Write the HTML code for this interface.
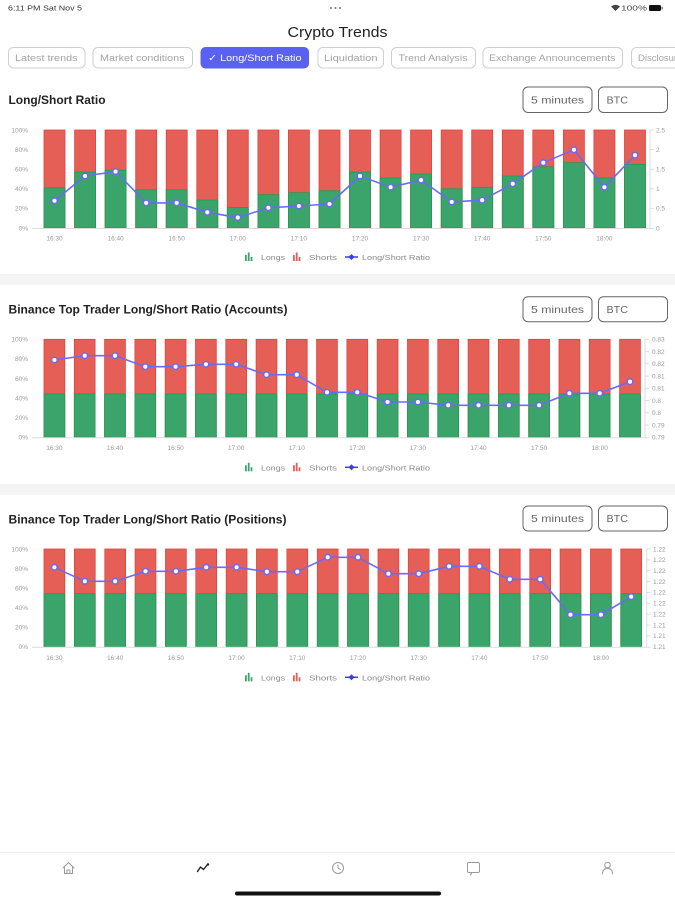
<!DOCTYPE html>
<html><head><meta charset="utf-8"><style>
html,body{margin:0;padding:0;background:#fff;}
body{width:675px;height:900px;overflow:hidden;}
svg{display:block;font-family:"Liberation Sans",sans-serif;}
</style></head><body>
<svg width="675" height="900" viewBox="0 0 675 900" xmlns="http://www.w3.org/2000/svg">
<rect width="675" height="900" fill="#fff"/>
<!-- status bar -->
<text x="8" y="10.5" font-size="7" fill="#333" textLength="74" lengthAdjust="spacingAndGlyphs">6:11 PM  Sat Nov 5</text>
<g fill="#777"><circle cx="331" cy="8" r="1"/><circle cx="335.5" cy="8" r="1"/><circle cx="340" cy="8" r="1"/></g>
<path d="M611,6.5 Q615.5,3 620,6.5 L615.5,11 Z" fill="#444"/>
<text x="621" y="10.5" font-size="7" fill="#444" textLength="26" lengthAdjust="spacingAndGlyphs">100%</text>
<rect x="649" y="5" width="12" height="6" rx="1.5" fill="#111"/>
<rect x="661.5" y="6.8" width="1.2" height="2.5" fill="#555"/>
<!-- title -->
<text x="337.5" y="37" font-size="14.5" fill="#222" text-anchor="middle" textLength="100" lengthAdjust="spacingAndGlyphs">Crypto Trends</text>
<!-- tabs -->
<g fill="#fff" stroke="#cfcfcf" stroke-width="1">
<rect x="8.5" y="47.5" width="76.5" height="20.5" rx="5"/>
<rect x="93" y="47.5" width="99.5" height="20.5" rx="5"/>
<rect x="318" y="47.5" width="65.5" height="20.5" rx="5"/>
<rect x="391.5" y="47.5" width="84" height="20.5" rx="5"/>
<rect x="483" y="47.5" width="139.5" height="20.5" rx="5"/>
<rect x="631.5" y="47.5" width="60" height="20.5" rx="5"/>
</g>
<rect x="200.5" y="47" width="108.5" height="21.5" rx="5" fill="#5a60f0"/>
<g font-size="9.5" fill="#a3a3a3">
<text x="15" y="61" textLength="62.5" lengthAdjust="spacingAndGlyphs">Latest trends</text>
<text x="100" y="61" textLength="84.5" lengthAdjust="spacingAndGlyphs">Market conditions</text>
<text x="324" y="61" textLength="53.5" lengthAdjust="spacingAndGlyphs">Liquidation</text>
<text x="398.5" y="61" textLength="69" lengthAdjust="spacingAndGlyphs">Trend Analysis</text>
<text x="489" y="61" textLength="126.5" lengthAdjust="spacingAndGlyphs">Exchange Announcements</text>
<text x="638" y="61">Disclosure</text>
</g>
<text x="208" y="61" font-size="9.5" fill="#fff" textLength="93.5" lengthAdjust="spacingAndGlyphs">✓ Long/Short Ratio</text>

<!-- grey separators -->
<rect x="0" y="274" width="675" height="11" fill="#f4f4f4"/>
<rect x="0" y="484" width="675" height="11" fill="#f4f4f4"/>

<!-- section titles & selectors -->
<g font-size="11.5" font-weight="bold" fill="#222">
<text x="8.5" y="104" textLength="97" lengthAdjust="spacingAndGlyphs">Long/Short Ratio</text>
<text x="8.5" y="313.5" textLength="279" lengthAdjust="spacingAndGlyphs">Binance Top Trader Long/Short Ratio (Accounts)</text>
<text x="8.5" y="523.5" textLength="278" lengthAdjust="spacingAndGlyphs">Binance Top Trader Long/Short Ratio (Positions)</text>
</g>
<g fill="#fff" stroke="#666" stroke-width="1">
<rect x="523" y="87" width="69" height="25.5" rx="5"/>
<rect x="598.5" y="87" width="69" height="25.5" rx="5"/>
<rect x="523" y="296.7" width="69" height="25" rx="5"/>
<rect x="598.5" y="296.7" width="69" height="25" rx="5"/>
<rect x="523" y="506" width="69" height="25" rx="5"/>
<rect x="598.5" y="506" width="69" height="25" rx="5"/>
</g>
<g font-size="10" fill="#666">
<text x="531" y="103.5" textLength="53" lengthAdjust="spacingAndGlyphs">5 minutes</text>
<text x="606.5" y="103.5" textLength="21.5" lengthAdjust="spacingAndGlyphs">BTC</text>
<text x="531" y="312.8" textLength="53" lengthAdjust="spacingAndGlyphs">5 minutes</text>
<text x="606.5" y="312.8" textLength="21.5" lengthAdjust="spacingAndGlyphs">BTC</text>
<text x="531" y="522" textLength="53" lengthAdjust="spacingAndGlyphs">5 minutes</text>
<text x="606.5" y="522" textLength="21.5" lengthAdjust="spacingAndGlyphs">BTC</text>
</g>

<!-- ============ CHART 1 ============ -->
<g fill="#e65f57" stroke="#e2413c" stroke-width="0.8">
<rect x="44" y="130" width="21" height="98"/><rect x="74.6" y="130" width="21" height="98"/><rect x="105.1" y="130" width="21" height="98"/><rect x="135.7" y="130" width="21" height="98"/><rect x="166.2" y="130" width="21" height="98"/><rect x="196.8" y="130" width="21" height="98"/><rect x="227.3" y="130" width="21" height="98"/><rect x="257.9" y="130" width="21" height="98"/><rect x="288.4" y="130" width="21" height="98"/><rect x="319" y="130" width="21" height="98"/><rect x="349.5" y="130" width="21" height="98"/><rect x="380.1" y="130" width="21" height="98"/><rect x="410.6" y="130" width="21" height="98"/><rect x="441.2" y="130" width="21" height="98"/><rect x="471.7" y="130" width="21" height="98"/><rect x="502.3" y="130" width="21" height="98"/><rect x="532.8" y="130" width="21" height="98"/><rect x="563.4" y="130" width="21" height="98"/><rect x="593.9" y="130" width="21" height="98"/><rect x="624.5" y="130" width="21" height="98"/>
</g>
<g fill="#3aa46a" stroke="#1f9b52" stroke-width="0.8">
<rect x="44" y="187.8" width="21" height="40.2"/><rect x="74.6" y="172.1" width="21" height="55.9"/><rect x="105.1" y="170.2" width="21" height="57.8"/><rect x="135.7" y="189.8" width="21" height="38.2"/><rect x="166.2" y="189.8" width="21" height="38.2"/><rect x="196.8" y="200" width="21" height="28"/><rect x="227.3" y="207.4" width="21" height="20.6"/><rect x="257.9" y="194.7" width="21" height="33.3"/><rect x="288.4" y="192.7" width="21" height="35.3"/><rect x="319" y="190.8" width="21" height="37.2"/><rect x="349.5" y="172.1" width="21" height="55.9"/><rect x="380.1" y="178" width="21" height="50"/><rect x="410.6" y="174.1" width="21" height="53.9"/><rect x="441.2" y="188.8" width="21" height="39.2"/><rect x="471.7" y="187.3" width="21" height="40.7"/><rect x="502.3" y="176.1" width="21" height="51.9"/><rect x="532.8" y="166.8" width="21" height="61.2"/><rect x="563.4" y="162.7" width="21" height="65.3"/><rect x="593.9" y="178" width="21" height="50"/><rect x="624.5" y="164.3" width="21" height="63.7"/>
</g>
<g stroke="#dcdcdc" stroke-width="1">
<line x1="32" y1="228.5" x2="650" y2="228.5"/>
<line x1="650" y1="130" x2="650" y2="228.5"/>
<line x1="650" y1="130" x2="654" y2="130"/><line x1="650" y1="149.6" x2="654" y2="149.6"/><line x1="650" y1="169.2" x2="654" y2="169.2"/><line x1="650" y1="188.8" x2="654" y2="188.8"/><line x1="650" y1="208.4" x2="654" y2="208.4"/><line x1="650" y1="228.5" x2="654" y2="228.5"/>
</g>
<g font-size="6.5" fill="#9a9a9a" text-anchor="end">
<text x="28" y="132.3">100%</text><text x="28" y="151.9">80%</text><text x="28" y="171.5">60%</text><text x="28" y="191.1">40%</text><text x="28" y="210.7">20%</text><text x="28" y="230.3">0%</text>
</g>
<g font-size="6.5" fill="#9a9a9a">
<text x="656" y="132.3">2.5</text><text x="656" y="151.9">2</text><text x="656" y="171.5">1.5</text><text x="656" y="191.1">1</text><text x="656" y="210.7">0.5</text><text x="656" y="230.3">0</text>
</g>
<g font-size="6.5" fill="#9a9a9a" text-anchor="middle">
<text x="54.5" y="240.5">16:30</text><text x="115.6" y="240.5">16:40</text><text x="176.7" y="240.5">16:50</text><text x="237.8" y="240.5">17:00</text><text x="298.9" y="240.5">17:10</text><text x="360" y="240.5">17:20</text><text x="421.1" y="240.5">17:30</text><text x="482.2" y="240.5">17:40</text><text x="543.3" y="240.5">17:50</text><text x="604.4" y="240.5">18:00</text>
</g>
<polyline fill="none" stroke="#6b6af2" stroke-width="1.6" stroke-linejoin="round" points="54.5,200.8 85.1,176 115.6,171.6 146.2,202.9 176.7,202.9 207.3,212.3 237.8,217.6 268.4,207.8 298.9,206 329.5,204 360,176 390.6,187.2 421.1,180.1 451.7,201.9 482.2,200.2 512.8,183.8 543.3,162.7 573.9,149.8 604.4,187.2 635,155.2"/>
<g fill="#fff" stroke="#6b6af2" stroke-width="1.5">
<circle cx="54.5" cy="200.8" r="2.8"/><circle cx="85.1" cy="176" r="2.8"/><circle cx="115.6" cy="171.6" r="2.8"/><circle cx="146.2" cy="202.9" r="2.8"/><circle cx="176.7" cy="202.9" r="2.8"/><circle cx="207.3" cy="212.3" r="2.8"/><circle cx="237.8" cy="217.6" r="2.8"/><circle cx="268.4" cy="207.8" r="2.8"/><circle cx="298.9" cy="206" r="2.8"/><circle cx="329.5" cy="204" r="2.8"/><circle cx="360" cy="176" r="2.8"/><circle cx="390.6" cy="187.2" r="2.8"/><circle cx="421.1" cy="180.1" r="2.8"/><circle cx="451.7" cy="201.9" r="2.8"/><circle cx="482.2" cy="200.2" r="2.8"/><circle cx="512.8" cy="183.8" r="2.8"/><circle cx="543.3" cy="162.7" r="2.8"/><circle cx="573.9" cy="149.8" r="2.8"/><circle cx="604.4" cy="187.2" r="2.8"/><circle cx="635" cy="155.2" r="2.8"/>
</g>
<!-- legend 1 -->
<g transform="translate(0,0)">
<g fill="#3aa46a"><rect x="245" y="255" width="1.8" height="6"/><rect x="247.8" y="252.5" width="1.8" height="8.5"/><rect x="250.6" y="257" width="1.8" height="4"/></g>
<text x="261" y="260" font-size="7.5" fill="#888" textLength="24" lengthAdjust="spacingAndGlyphs">Longs</text>
<g fill="#e65f57"><rect x="293" y="255" width="1.8" height="6"/><rect x="295.8" y="252.5" width="1.8" height="8.5"/><rect x="298.6" y="257" width="1.8" height="4"/></g>
<text x="309" y="260" font-size="7.5" fill="#888" textLength="28" lengthAdjust="spacingAndGlyphs">Shorts</text>
<line x1="345" y1="257" x2="358" y2="257" stroke="#3b3bef" stroke-width="1.5"/><path d="M351.5,254 L354.5,257 L351.5,260 L348.5,257 Z" fill="#3b3bef"/>
<text x="362" y="260" font-size="7.5" fill="#888" textLength="68" lengthAdjust="spacingAndGlyphs">Long/Short Ratio</text>
</g>

<!-- ============ CHART 2 ============ -->
<g fill="#e65f57" stroke="#e2413c" stroke-width="0.8">
<rect x="44" y="339.3" width="20.8" height="98"/><rect x="74.3" y="339.3" width="20.8" height="98"/><rect x="104.6" y="339.3" width="20.8" height="98"/><rect x="134.9" y="339.3" width="20.8" height="98"/><rect x="165.2" y="339.3" width="20.8" height="98"/><rect x="195.5" y="339.3" width="20.8" height="98"/><rect x="225.8" y="339.3" width="20.8" height="98"/><rect x="256.1" y="339.3" width="20.8" height="98"/><rect x="286.4" y="339.3" width="20.8" height="98"/><rect x="316.6" y="339.3" width="20.8" height="98"/><rect x="346.9" y="339.3" width="20.8" height="98"/><rect x="377.2" y="339.3" width="20.8" height="98"/><rect x="407.5" y="339.3" width="20.8" height="98"/><rect x="437.8" y="339.3" width="20.8" height="98"/><rect x="468.1" y="339.3" width="20.8" height="98"/><rect x="498.4" y="339.3" width="20.8" height="98"/><rect x="528.7" y="339.3" width="20.8" height="98"/><rect x="559" y="339.3" width="20.8" height="98"/><rect x="589.3" y="339.3" width="20.8" height="98"/><rect x="619.6" y="339.3" width="20.8" height="98"/>
</g>
<g fill="#3aa46a" stroke="#1f9b52" stroke-width="0.8">
<rect x="44" y="394" width="20.8" height="43.3"/><rect x="74.3" y="394" width="20.8" height="43.3"/><rect x="104.6" y="394" width="20.8" height="43.3"/><rect x="134.9" y="394" width="20.8" height="43.3"/><rect x="165.2" y="394" width="20.8" height="43.3"/><rect x="195.5" y="394" width="20.8" height="43.3"/><rect x="225.8" y="394" width="20.8" height="43.3"/><rect x="256.1" y="394" width="20.8" height="43.3"/><rect x="286.4" y="394" width="20.8" height="43.3"/><rect x="316.6" y="394" width="20.8" height="43.3"/><rect x="346.9" y="394" width="20.8" height="43.3"/><rect x="377.2" y="394" width="20.8" height="43.3"/><rect x="407.5" y="394" width="20.8" height="43.3"/><rect x="437.8" y="394" width="20.8" height="43.3"/><rect x="468.1" y="394" width="20.8" height="43.3"/><rect x="498.4" y="394" width="20.8" height="43.3"/><rect x="528.7" y="394" width="20.8" height="43.3"/><rect x="559" y="394" width="20.8" height="43.3"/><rect x="589.3" y="394" width="20.8" height="43.3"/><rect x="619.6" y="394" width="20.8" height="43.3"/>
</g>
<g stroke="#dcdcdc" stroke-width="1">
<line x1="32" y1="437.8" x2="645" y2="437.8"/>
<line x1="645" y1="339.3" x2="645" y2="437.8"/>
<line x1="645" y1="339.3" x2="649" y2="339.3"/><line x1="645" y1="351.6" x2="649" y2="351.6"/><line x1="645" y1="363.8" x2="649" y2="363.8"/><line x1="645" y1="376.1" x2="649" y2="376.1"/><line x1="645" y1="388.3" x2="649" y2="388.3"/><line x1="645" y1="400.6" x2="649" y2="400.6"/><line x1="645" y1="412.8" x2="649" y2="412.8"/><line x1="645" y1="425.1" x2="649" y2="425.1"/><line x1="645" y1="437.8" x2="649" y2="437.8"/>
</g>
<g font-size="6.5" fill="#9a9a9a" text-anchor="end">
<text x="28" y="341.6">100%</text><text x="28" y="361.2">80%</text><text x="28" y="380.8">60%</text><text x="28" y="400.4">40%</text><text x="28" y="420">20%</text><text x="28" y="439.6">0%</text>
</g>
<g font-size="6.5" fill="#9a9a9a">
<text x="652" y="341.6">0.83</text><text x="652" y="353.9">0.82</text><text x="652" y="366.1">0.82</text><text x="652" y="378.4">0.81</text><text x="652" y="390.6">0.81</text><text x="652" y="402.9">0.8</text><text x="652" y="415.1">0.8</text><text x="652" y="427.4">0.79</text><text x="652" y="439.6">0.79</text>
</g>
<g font-size="6.5" fill="#9a9a9a" text-anchor="middle">
<text x="54.4" y="450">16:30</text><text x="115" y="450">16:40</text><text x="175.6" y="450">16:50</text><text x="236.2" y="450">17:00</text><text x="296.8" y="450">17:10</text><text x="357.3" y="450">17:20</text><text x="417.9" y="450">17:30</text><text x="478.5" y="450">17:40</text><text x="539.1" y="450">17:50</text><text x="599.7" y="450">18:00</text>
</g>
<polyline fill="none" stroke="#6b6af2" stroke-width="1.6" stroke-linejoin="round" points="54.4,360 84.7,355.7 115,355.7 145.3,366.7 175.6,366.7 205.9,364.3 236.2,364.3 266.5,374.7 296.8,374.7 327,392.3 357.3,392.3 387.6,402 417.9,402 448.2,405.3 478.5,405.3 508.8,405.3 539.1,405.3 569.4,393.3 599.7,393.3 630,381.7"/>
<g fill="#fff" stroke="#6b6af2" stroke-width="1.5">
<circle cx="54.4" cy="360" r="2.8"/><circle cx="84.7" cy="355.7" r="2.8"/><circle cx="115" cy="355.7" r="2.8"/><circle cx="145.3" cy="366.7" r="2.8"/><circle cx="175.6" cy="366.7" r="2.8"/><circle cx="205.9" cy="364.3" r="2.8"/><circle cx="236.2" cy="364.3" r="2.8"/><circle cx="266.5" cy="374.7" r="2.8"/><circle cx="296.8" cy="374.7" r="2.8"/><circle cx="327" cy="392.3" r="2.8"/><circle cx="357.3" cy="392.3" r="2.8"/><circle cx="387.6" cy="402" r="2.8"/><circle cx="417.9" cy="402" r="2.8"/><circle cx="448.2" cy="405.3" r="2.8"/><circle cx="478.5" cy="405.3" r="2.8"/><circle cx="508.8" cy="405.3" r="2.8"/><circle cx="539.1" cy="405.3" r="2.8"/><circle cx="569.4" cy="393.3" r="2.8"/><circle cx="599.7" cy="393.3" r="2.8"/><circle cx="630" cy="381.7" r="2.8"/>
</g>
<g transform="translate(0,210.3)">
<g fill="#3aa46a"><rect x="245" y="255" width="1.8" height="6"/><rect x="247.8" y="252.5" width="1.8" height="8.5"/><rect x="250.6" y="257" width="1.8" height="4"/></g>
<text x="261" y="260" font-size="7.5" fill="#888" textLength="24" lengthAdjust="spacingAndGlyphs">Longs</text>
<g fill="#e65f57"><rect x="293" y="255" width="1.8" height="6"/><rect x="295.8" y="252.5" width="1.8" height="8.5"/><rect x="298.6" y="257" width="1.8" height="4"/></g>
<text x="309" y="260" font-size="7.5" fill="#888" textLength="28" lengthAdjust="spacingAndGlyphs">Shorts</text>
<line x1="345" y1="257" x2="358" y2="257" stroke="#3b3bef" stroke-width="1.5"/><path d="M351.5,254 L354.5,257 L351.5,260 L348.5,257 Z" fill="#3b3bef"/>
<text x="362" y="260" font-size="7.5" fill="#888" textLength="68" lengthAdjust="spacingAndGlyphs">Long/Short Ratio</text>
</g>

<!-- ============ CHART 3 ============ -->
<g fill="#e65f57" stroke="#e2413c" stroke-width="0.8">
<rect x="44" y="549" width="20.8" height="97.7"/><rect x="74.4" y="549" width="20.8" height="97.7"/><rect x="104.8" y="549" width="20.8" height="97.7"/><rect x="135.1" y="549" width="20.8" height="97.7"/><rect x="165.5" y="549" width="20.8" height="97.7"/><rect x="195.8" y="549" width="20.8" height="97.7"/><rect x="226.2" y="549" width="20.8" height="97.7"/><rect x="256.5" y="549" width="20.8" height="97.7"/><rect x="286.9" y="549" width="20.8" height="97.7"/><rect x="317.3" y="549" width="20.8" height="97.7"/><rect x="347.6" y="549" width="20.8" height="97.7"/><rect x="378" y="549" width="20.8" height="97.7"/><rect x="408.3" y="549" width="20.8" height="97.7"/><rect x="438.7" y="549" width="20.8" height="97.7"/><rect x="469" y="549" width="20.8" height="97.7"/><rect x="499.4" y="549" width="20.8" height="97.7"/><rect x="529.8" y="549" width="20.8" height="97.7"/><rect x="560.1" y="549" width="20.8" height="97.7"/><rect x="590.5" y="549" width="20.8" height="97.7"/><rect x="620.8" y="549" width="20.8" height="97.7"/>
</g>
<g fill="#3aa46a" stroke="#1f9b52" stroke-width="0.8">
<rect x="44" y="593.7" width="20.8" height="53"/><rect x="74.4" y="593.7" width="20.8" height="53"/><rect x="104.8" y="593.7" width="20.8" height="53"/><rect x="135.1" y="593.7" width="20.8" height="53"/><rect x="165.5" y="593.7" width="20.8" height="53"/><rect x="195.8" y="593.7" width="20.8" height="53"/><rect x="226.2" y="593.7" width="20.8" height="53"/><rect x="256.5" y="593.7" width="20.8" height="53"/><rect x="286.9" y="593.7" width="20.8" height="53"/><rect x="317.3" y="593.7" width="20.8" height="53"/><rect x="347.6" y="593.7" width="20.8" height="53"/><rect x="378" y="593.7" width="20.8" height="53"/><rect x="408.3" y="593.7" width="20.8" height="53"/><rect x="438.7" y="593.7" width="20.8" height="53"/><rect x="469" y="593.7" width="20.8" height="53"/><rect x="499.4" y="593.7" width="20.8" height="53"/><rect x="529.8" y="593.7" width="20.8" height="53"/><rect x="560.1" y="593.7" width="20.8" height="53"/><rect x="590.5" y="593.7" width="20.8" height="53"/><rect x="620.8" y="593.7" width="20.8" height="53"/>
</g>
<g stroke="#dcdcdc" stroke-width="1">
<line x1="32" y1="647.2" x2="646.7" y2="647.2"/>
<line x1="646.7" y1="549" x2="646.7" y2="647.2"/>
<line x1="646.7" y1="549" x2="650.5" y2="549"/><line x1="646.7" y1="559.9" x2="650.5" y2="559.9"/><line x1="646.7" y1="570.7" x2="650.5" y2="570.7"/><line x1="646.7" y1="581.6" x2="650.5" y2="581.6"/><line x1="646.7" y1="592.4" x2="650.5" y2="592.4"/><line x1="646.7" y1="603.3" x2="650.5" y2="603.3"/><line x1="646.7" y1="614.2" x2="650.5" y2="614.2"/><line x1="646.7" y1="625" x2="650.5" y2="625"/><line x1="646.7" y1="635.9" x2="650.5" y2="635.9"/><line x1="646.7" y1="647.2" x2="650.5" y2="647.2"/>
</g>
<g font-size="6.5" fill="#9a9a9a" text-anchor="end">
<text x="28" y="551.3">100%</text><text x="28" y="570.8">80%</text><text x="28" y="590.4">60%</text><text x="28" y="609.9">40%</text><text x="28" y="629.5">20%</text><text x="28" y="649">0%</text>
</g>
<g font-size="6.5" fill="#9a9a9a">
<text x="653" y="551.3">1.22</text><text x="653" y="562.2">1.22</text><text x="653" y="573">1.22</text><text x="653" y="583.9">1.22</text><text x="653" y="594.7">1.22</text><text x="653" y="605.6">1.22</text><text x="653" y="616.5">1.22</text><text x="653" y="627.3">1.21</text><text x="653" y="638.2">1.21</text><text x="653" y="649">1.21</text>
</g>
<g font-size="6.5" fill="#9a9a9a" text-anchor="middle">
<text x="54.4" y="660">16:30</text><text x="115.2" y="660">16:40</text><text x="175.9" y="660">16:50</text><text x="236.6" y="660">17:00</text><text x="297.3" y="660">17:10</text><text x="358" y="660">17:20</text><text x="418.7" y="660">17:30</text><text x="479.4" y="660">17:40</text><text x="540.2" y="660">17:50</text><text x="600.9" y="660">18:00</text>
</g>
<polyline fill="none" stroke="#6b6af2" stroke-width="1.6" stroke-linejoin="round" points="54.4,567.3 84.8,581.3 115.2,581.3 145.5,571.3 175.9,571.3 206.2,567.3 236.6,567.3 266.9,571.7 297.3,571.7 327.7,557.3 358,557.3 388.4,573.7 418.7,573.7 449.1,566.3 479.4,566.3 509.8,579.3 540.2,579.3 570.5,614.7 600.9,614.7 631.2,596.7"/>
<g fill="#fff" stroke="#6b6af2" stroke-width="1.5">
<circle cx="54.4" cy="567.3" r="2.8"/><circle cx="84.8" cy="581.3" r="2.8"/><circle cx="115.2" cy="581.3" r="2.8"/><circle cx="145.5" cy="571.3" r="2.8"/><circle cx="175.9" cy="571.3" r="2.8"/><circle cx="206.2" cy="567.3" r="2.8"/><circle cx="236.6" cy="567.3" r="2.8"/><circle cx="266.9" cy="571.7" r="2.8"/><circle cx="297.3" cy="571.7" r="2.8"/><circle cx="327.7" cy="557.3" r="2.8"/><circle cx="358" cy="557.3" r="2.8"/><circle cx="388.4" cy="573.7" r="2.8"/><circle cx="418.7" cy="573.7" r="2.8"/><circle cx="449.1" cy="566.3" r="2.8"/><circle cx="479.4" cy="566.3" r="2.8"/><circle cx="509.8" cy="579.3" r="2.8"/><circle cx="540.2" cy="579.3" r="2.8"/><circle cx="570.5" cy="614.7" r="2.8"/><circle cx="600.9" cy="614.7" r="2.8"/><circle cx="631.2" cy="596.7" r="2.8"/>
</g>
<g transform="translate(0,420.3)">
<g fill="#3aa46a"><rect x="245" y="255" width="1.8" height="6"/><rect x="247.8" y="252.5" width="1.8" height="8.5"/><rect x="250.6" y="257" width="1.8" height="4"/></g>
<text x="261" y="260" font-size="7.5" fill="#888" textLength="24" lengthAdjust="spacingAndGlyphs">Longs</text>
<g fill="#e65f57"><rect x="293" y="255" width="1.8" height="6"/><rect x="295.8" y="252.5" width="1.8" height="8.5"/><rect x="298.6" y="257" width="1.8" height="4"/></g>
<text x="309" y="260" font-size="7.5" fill="#888" textLength="28" lengthAdjust="spacingAndGlyphs">Shorts</text>
<line x1="345" y1="257" x2="358" y2="257" stroke="#3b3bef" stroke-width="1.5"/><path d="M351.5,254 L354.5,257 L351.5,260 L348.5,257 Z" fill="#3b3bef"/>
<text x="362" y="260" font-size="7.5" fill="#888" textLength="68" lengthAdjust="spacingAndGlyphs">Long/Short Ratio</text>
</g>

<!-- bottom nav -->
<line x1="0" y1="852.5" x2="675" y2="852.5" stroke="#efefef" stroke-width="1"/>
<g fill="none" stroke="#9a9a9a" stroke-width="1" stroke-linejoin="round" stroke-linecap="round">
<path d="M63,868 L68.5,862.5 L74,868 M64.5,866.5 L64.5,873.5 L72.5,873.5 L72.5,866.5 M67,873.5 L67,870 L70,870 L70,873.5"/>
<circle cx="338" cy="868" r="5.5"/><path d="M338,865 L338,868 L340.5,869.5"/>
<rect x="467.5" y="862.5" width="12" height="10" rx="1.5"/><path d="M470.5,875 L472,872.5"/>
<circle cx="607.5" cy="865" r="2.8"/><path d="M602.5,874 Q602.5,868.5 607.5,868.5 Q612.5,868.5 612.5,874"/>
</g>
<path d="M197.5,871.5 L200.5,867 L203.5,869.5 L207.5,864.5" fill="none" stroke="#222" stroke-width="1.4" stroke-linejoin="round" stroke-linecap="round"/>
<circle cx="208" cy="864.5" r="1.2" fill="#222"/>
<rect x="235" y="891.5" width="206" height="4" rx="2" fill="#111"/>
</svg>
</body></html>
